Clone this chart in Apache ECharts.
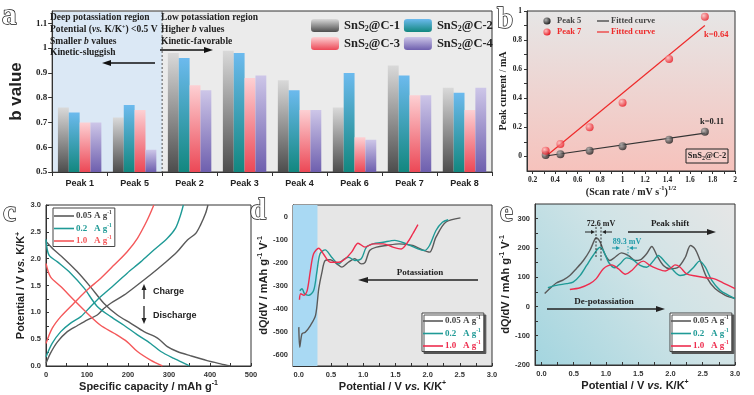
<!DOCTYPE html>
<html><head><meta charset="utf-8">
<script src="https://cdn.jsdelivr.net/npm/echarts@6/dist/echarts.min.js"></script>
<style>html,body{margin:0;padding:0;background:#fff}#c{width:754px;height:395px}</style>
</head><body><div id="c"></div><script>
// ---------- DATA ----------
// Panel a : b values
const peakCategories = ['Peak 1','Peak 5','Peak 2','Peak 3','Peak 4','Peak 6','Peak 7','Peak 8'];
const bC1 = [0.76,0.72,0.98,0.99,0.87,0.76,0.93,0.84];
const bC2 = [0.74,0.77,0.96,0.98,0.83,0.90,0.89,0.82];
const bC3 = [0.70,0.75,0.85,0.88,0.75,0.64,0.81,0.75];
const bC4 = [0.70,0.59,0.83,0.89,0.75,0.63,0.81,0.84];
const aYLabels = [0.5,0.6,0.7,0.8,0.9,1.0,1.1];
// Panel b : peak current vs sqrt scan rate
const scanRateSqrt = [0.316,0.447,0.707,1.0,1.414,1.732];
const peak5Current = [0.010,0.015,0.040,0.070,0.115,0.170];
const peak7Current = [0.040,0.085,0.200,0.370,0.670,0.960];
const fit5X = [0.316,1.732], fit5Y = [0.003,0.160];
const fit7X = [0.316,1.732], fit7Y = [0.000,0.900];
const bXLabels = [0.2,0.4,0.6,0.8,1.0,1.2,1.4,1.6,1.8,2.0];
const bXTicks = [0.2,0.3,0.4,0.5,0.6,0.7,0.8,0.9,1.0,1.1,1.2,1.3,1.4,1.5,1.6,1.7,1.8,1.9,2.0];
const bYLabels = [0,0.2,0.4,0.6,0.8,1.0];
const bYTicks = [0,0.1,0.2,0.3,0.4,0.5,0.6,0.7,0.8,0.9,1.0];
// Panel c : charge/discharge profiles [capacity, potential]
const c005Dis = [[0,2.32],[20,2.16],[44,2.0],[76,1.76],[109,1.47],[141,1.17],[174,0.95],[206,0.80],[239,0.64],[272,0.52],[296,0.36],[320,0.27],[353,0.19],[393,0.10],[426,0.04],[450,0.0]];
const c005Cha = [[0,0.05],[11,0.24],[28,0.45],[52,0.64],[76,0.75],[101,0.86],[125,0.95],[141,1.07],[158,1.17],[190,1.32],[223,1.51],[255,1.70],[288,1.91],[320,2.13],[345,2.35],[365,2.47],[377,2.63],[389,2.84],[395,3.0]];
const c02Dis = [[0,2.36],[7,2.07],[28,1.94],[60,1.73],[93,1.45],[125,1.11],[158,0.92],[190,0.76],[223,0.58],[255,0.42],[280,0.27],[312,0.14],[345,0.02],[350,0.0]];
const c02Cha = [[0,0.17],[15,0.42],[36,0.64],[60,0.80],[85,0.92],[109,1.11],[133,1.29],[166,1.51],[198,1.73],[231,1.94],[263,2.16],[296,2.38],[316,2.57],[328,2.81],[335,3.0]];
const c10Dis = [[0,1.91],[11,1.66],[36,1.48],[68,1.23],[101,0.98],[133,0.76],[166,0.61],[198,0.45],[223,0.27],[255,0.11],[284,0.0]];
const c10Cha = [[0,0.42],[15,0.70],[36,0.92],[68,1.17],[101,1.42],[133,1.63],[166,1.88],[198,2.13],[223,2.38],[247,2.72],[263,3.0]];
const cXLabels = [0,100,200,300,400,500];
const cXTicks = [0,50,100,150,200,250,300,350,400,450,500];
const cYLabels = [0,0.5,1.0,1.5,2.0,2.5,3.0];
const cYTicks = [0,0.25,0.5,0.75,1.0,1.25,1.5,1.75,2.0,2.25,2.5,2.75,3.0];
// Panel d : potassiation dQ/dV [potential, dQ/dV]
const d005 = [[2.51,-6],[2.28,-25],[2.13,-90],[2.03,-155],[1.92,-145],[1.77,-126],[1.56,-119],[1.36,-126],[1.21,-133],[1.10,-148],[1.03,-199],[0.97,-206],[0.87,-184],[0.77,-199],[0.67,-220],[0.59,-206],[0.49,-188],[0.41,-191],[0.36,-242],[0.31,-314],[0.26,-430],[0.18,-474],[0.10,-503],[0.05,-510],[0.015,-568],[0.0,-481]];
const d02 = [[2.32,-14],[2.23,-25],[2.13,-61],[2.03,-126],[1.95,-148],[1.85,-141],[1.67,-119],[1.49,-104],[1.31,-112],[1.15,-119],[1.05,-133],[0.97,-184],[0.87,-191],[0.77,-177],[0.69,-188],[0.62,-206],[0.51,-177],[0.41,-145],[0.33,-162],[0.28,-242],[0.23,-322],[0.15,-343],[0.09,-336],[0.05,-314],[0.015,-323]];
const d10 = [[1.85,-35],[1.77,-75],[1.69,-112],[1.59,-141],[1.46,-133],[1.31,-119],[1.15,-119],[1.03,-133],[0.92,-116],[0.82,-155],[0.72,-184],[0.62,-199],[0.49,-199],[0.38,-162],[0.31,-138],[0.23,-162],[0.18,-235],[0.13,-322],[0.08,-343],[0.03,-336],[0.01,-362]];
const dBand = [-0.09,0.29];
const dXLabels = [0,0.5,1.0,1.5,2.0,2.5,3.0];
const dXTicks = [0,0.25,0.5,0.75,1.0,1.25,1.5,1.75,2.0,2.25,2.5,2.75,3.0];
const dYLabels = [-600,-500,-400,-300,-200,-100,0];
const dYTicks = [-600,-550,-500,-450,-400,-350,-300,-250,-200,-150,-100,-50,0];
// Panel e : de-potassiation dQ/dV
const e005 = [[0.05,44],[0.13,61],[0.23,80],[0.34,91],[0.44,106],[0.54,129],[0.65,157],[0.75,191],[0.83,231],[0.85,234],[0.91,220],[0.98,180],[1.06,157],[1.14,168],[1.24,183],[1.35,174],[1.45,157],[1.53,159],[1.63,180],[1.71,205],[1.79,174],[1.89,140],[1.99,129],[2.12,134],[2.23,168],[2.31,208],[2.38,197],[2.46,157],[2.56,100],[2.69,61],[2.85,38],[3.0,27]];
const e02 = [[0.10,64],[0.23,72],[0.39,78],[0.49,83],[0.60,106],[0.70,140],[0.80,174],[0.91,202],[0.96,191],[1.04,151],[1.14,132],[1.22,146],[1.32,166],[1.42,159],[1.53,140],[1.63,134],[1.74,157],[1.81,174],[1.92,151],[2.02,129],[2.15,106],[2.25,111],[2.36,134],[2.45,155],[2.54,134],[2.64,89],[2.77,55],[2.90,38],[3.0,27]];
const e10 = [[0.44,58],[0.60,64],[0.75,78],[0.85,95],[0.96,129],[1.09,142],[1.19,129],[1.30,110],[1.40,123],[1.50,146],[1.58,155],[1.68,140],[1.79,129],[1.92,121],[2.02,134],[2.07,142],[2.15,134],[2.25,111],[2.41,103],[2.54,98],[2.67,95],[2.82,80],[3.0,61]];
const eYLabels = [-200,-100,0,100,200,300];
const eYTicks = [-200,-150,-100,-50,0,50,100,150,200,250,300];

// ---------- STYLE ----------
const SERIF = 'Liberation Serif', SANS = 'Liberation Sans';
const GREY = '#5a5a5a', TEAL = '#1f9a96', RED = '#ee2d4e', REDC = '#f4585a';
const LG = (c0,c1)=>new echarts.graphic.LinearGradient(0,0,0,1,[{offset:0,color:c0},{offset:1,color:c1}]);
const fmt = v => String(+(+v).toFixed(2));
const fmt1 = v => (+v).toFixed(1);
const supRich = {
  a:{fontFamily:SANS,fontWeight:'bold',fontSize:11,color:'#222'},
  i:{fontFamily:SANS,fontWeight:'bold',fontStyle:'italic',fontSize:11,color:'#222'},
  sup:{fontFamily:SANS,fontWeight:'bold',fontSize:7,color:'#222',padding:[0,0,7,0]}
};
function valAxis(grid, min, max, labels, ticks, f, extra){
  return Object.assign({
    gridIndex:grid, type:'value', min:min, max:max,
    axisLine:{show:true,onZero:false,lineStyle:{color:'#333',width:1}},
    axisTick:{show:true,customValues:ticks,length:3,inside:true,lineStyle:{color:'#333'}},
    axisLabel:{customValues:labels,formatter:f,fontFamily:SANS,fontWeight:'bold',fontSize:7.5,color:'#333',margin:5},
    splitLine:{show:false}
  }, extra||{});
}
const line = (name,data,color,x,y,extra)=>Object.assign({type:'line',name:name,data:data,xAxisIndex:x,yAxisIndex:y,symbol:'none',smooth:0.3,lineStyle:{color:color,width:1.4},itemStyle:{color:color},z:3},extra||{});
const pairs = (xs,ys)=>xs.map((x,i)=>[x,ys[i]]);

const chart = echarts.init(document.getElementById('c'));
const rateLegend = (left,top,withShadow,redColor)=>({
  data:[{name:'0.05',icon:'rect',itemStyle:{color:GREY},textStyle:{color:'#444'}},
        {name:'0.2',icon:'rect',itemStyle:{color:TEAL},textStyle:{color:TEAL}},
        {name:'1.0',icon:'rect',itemStyle:{color:redColor},textStyle:{color:redColor}}],
  left:left, top:top, orient:'vertical', itemGap:2, itemWidth:20, itemHeight:1.6,
  padding:[2,3,1,1], backgroundColor:'#fff', borderColor:'#444', borderWidth:1,
  shadowColor: withShadow?'#555':'rgba(0,0,0,0)', shadowOffsetX:2, shadowOffsetY:2, shadowBlur:0,
  formatter: n => n + (n==='0.05'?' ':'   ') + 'A g{sup|-1}',
  textStyle:{fontFamily:SERIF,fontWeight:'bold',fontSize:9,padding:[0,0,0,-3],
    rich:{sup:{fontFamily:SERIF,fontWeight:'bold',fontSize:5.5,padding:[0,0,6,0]}}}
});
const snsFmt = n => '{a|SnS}{s|2}{a|' + n.slice(4) + '}';
const snsLegend = (names, top)=>({
  data:names, left:306, top:top, itemWidth:28, itemHeight:13, itemGap:4, formatter:snsFmt,
  textStyle:{rich:{a:{fontFamily:SERIF,fontWeight:'bold',fontSize:12.5,color:'#222'},
                   s:{fontFamily:SERIF,fontWeight:'bold',fontSize:8,color:'#222',padding:[7,0,0,0]}}}
});

const option = {
  animation:false,
  grid:[
    {left:45,top:11,width:447,height:161,show:true,backgroundColor:'#ebebeb',borderColor:'#333',borderWidth:1},
    {left:527,top:11,width:208,height:160,show:true,backgroundColor:LG('#e6e6e6','#f6c2bc'),borderColor:'#333',borderWidth:1},
    {left:46,top:205,width:205,height:161,show:true,backgroundColor:'#fff',borderColor:'#333',borderWidth:1},
    {left:293,top:205,width:199,height:161,show:true,backgroundColor:'#e6e6e6',borderColor:'#333',borderWidth:1},
    {left:535,top:204,width:200,height:161,show:true,
      backgroundColor:new echarts.graphic.LinearGradient(0,1,1,0,[{offset:0,color:'#a3d5df'},{offset:0.55,color:'#cfe3e6'},{offset:1,color:'#e6e6e6'}]),
      borderColor:'#333',borderWidth:1}
  ],
  xAxis:[
    {gridIndex:0,type:'category',data:peakCategories,
      axisLine:{lineStyle:{color:'#333'}},axisTick:{show:true,length:4,lineStyle:{color:'#333'}},
      axisLabel:{fontFamily:SANS,fontWeight:'bold',fontSize:9,color:'#222',margin:7}},
    valAxis(1,0.15,2,bXLabels,bXTicks,fmt,{axisLabel:{customValues:bXLabels,formatter:fmt,fontFamily:SERIF,fontWeight:'bold',fontSize:7.5,color:'#222',margin:5},
      axisTick:{show:true,customValues:bXTicks,length:3,inside:false,lineStyle:{color:'#333'}},
      name:'{a|(Scan rate / mV s}{sup|-1}{a|)}{sup|1/2}',nameLocation:'middle',nameGap:14,
      nameTextStyle:{rich:{a:{fontFamily:SERIF,fontWeight:'bold',fontSize:10,color:'#222'},sup:{fontFamily:SERIF,fontWeight:'bold',fontSize:6.5,color:'#222',padding:[0,0,7,0]}}}}),
    valAxis(2,0,500,cXLabels,cXTicks,v=>String(v),{name:'{a|Specific capacity / mAh g}{sup|-1}',nameLocation:'middle',nameGap:13,nameTextStyle:{rich:supRich}}),
    valAxis(3,-0.09,3,dXLabels,dXTicks,fmt1,{name:'{a|Potential / V }{i|vs.}{a| K/K}{sup|+}',nameLocation:'middle',nameGap:13,nameTextStyle:{rich:supRich}}),
    valAxis(4,-0.1,3,dXLabels,dXTicks,fmt1,{name:'{a|Potential / V }{i|vs.}{a| K/K}{sup|+}',nameLocation:'middle',nameGap:13,nameTextStyle:{rich:supRich}})
  ],
  yAxis:[
    valAxis(0,0.5,1.15,aYLabels,aYLabels,fmt,{axisTick:{show:true,customValues:aYLabels,length:4,inside:false,lineStyle:{color:'#333'}},
      axisLabel:{customValues:aYLabels,formatter:fmt,fontFamily:SERIF,fontWeight:'bold',fontSize:9,color:'#222',margin:5},
      name:'b value',nameLocation:'middle',nameGap:20,nameTextStyle:{fontFamily:SANS,fontWeight:'bold',fontSize:17,color:'#222'}}),
    valAxis(1,-0.1,1,bYLabels,bYTicks,fmt,{axisLabel:{customValues:bYLabels,formatter:fmt,fontFamily:SERIF,fontWeight:'bold',fontSize:7.5,color:'#222',margin:5},
      axisTick:{show:true,customValues:bYTicks,length:3,inside:false,lineStyle:{color:'#333'}},
      name:'Peak current / mA',nameLocation:'middle',nameGap:15,nameTextStyle:{fontFamily:SERIF,fontWeight:'bold',fontSize:10,color:'#222'}}),
    valAxis(2,0,3,cYLabels,cYTicks,fmt1,{name:'{a|Potential / V }{i|vs.}{a| K/K}{sup|+}',nameLocation:'middle',nameGap:16,nameTextStyle:{rich:supRich}}),
    valAxis(3,-650,50,dYLabels,dYTicks,v=>String(v),{name:'{a|dQ/dV / mAh g}{sup|-1}{a| V}{sup|-1}',nameLocation:'middle',nameGap:21,nameTextStyle:{rich:supRich}}),
    valAxis(4,-200,350,eYLabels,eYTicks,v=>String(v),{name:'{a|dQ/dV / mAh g}{sup|-1}{a| V}{sup|-1}',nameLocation:'middle',nameGap:19,nameTextStyle:{rich:supRich}})
  ],
  legend:[
    snsLegend(['SnS2@C-1','SnS2@C-2'],14),
    snsLegend(['SnS2@C-3','SnS2@C-4'],32),
    rateLegend(53,208,false,REDC),
    rateLegend(422,313,true,RED),
    rateLegend(670,313,true,RED)
  ],
  series:[
    {type:'bar',name:'SnS2@C-1',data:bC1,xAxisIndex:0,yAxisIndex:0,barGap:'0%',barCategoryGap:'21%',itemStyle:{color:LG('#d9d9d9','#4d4d4d')}},
    {type:'bar',name:'SnS2@C-2',data:bC2,xAxisIndex:0,yAxisIndex:0,barGap:'0%',barCategoryGap:'21%',itemStyle:{color:LG('#6cbaee','#12877f')}},
    {type:'bar',name:'SnS2@C-3',data:bC3,xAxisIndex:0,yAxisIndex:0,barGap:'0%',barCategoryGap:'21%',itemStyle:{color:LG('#fdd0d3','#ec4856')}},
    {type:'bar',name:'SnS2@C-4',data:bC4,xAxisIndex:0,yAxisIndex:0,barGap:'0%',barCategoryGap:'21%',itemStyle:{color:LG('#cdc6e8','#6e5fae')}},
    {type:'line',name:'fit5',data:pairs(fit5X,fit5Y),xAxisIndex:1,yAxisIndex:1,symbol:'none',lineStyle:{color:'#333',width:1.2},z:2},
    {type:'line',name:'fit7',data:pairs(fit7X,fit7Y),xAxisIndex:1,yAxisIndex:1,symbol:'none',lineStyle:{color:'#ee2a2a',width:1.2},z:2},
    {type:'scatter',name:'Peak 5',data:pairs(scanRateSqrt,peak5Current),xAxisIndex:1,yAxisIndex:1,symbolSize:8,z:4,
      itemStyle:{color:new echarts.graphic.RadialGradient(0.35,0.35,0.7,[{offset:0,color:'#b0b0b0'},{offset:1,color:'#1a1a1a'}])}},
    {type:'scatter',name:'Peak 7',data:pairs(scanRateSqrt,peak7Current),xAxisIndex:1,yAxisIndex:1,symbolSize:8,z:4,
      itemStyle:{color:new echarts.graphic.RadialGradient(0.35,0.35,0.7,[{offset:0,color:'#ffc0c0'},{offset:1,color:'#e8141e'}])}},
    line('0.05',c005Dis,GREY,2,2), line('0.05',c005Cha,GREY,2,2),
    line('0.2',c02Dis,TEAL,2,2), line('0.2',c02Cha,TEAL,2,2),
    line('1.0',c10Dis,REDC,2,2), line('1.0',c10Cha,REDC,2,2),
    {type:'line',name:'band',data:[],xAxisIndex:3,yAxisIndex:3,z:1,
      markArea:{silent:true,itemStyle:{color:'#a9d9f3'},data:[[{xAxis:dBand[0]},{xAxis:dBand[1]}]]}},
    line('0.05',d005,GREY,3,3), line('0.2',d02,TEAL,3,3), line('1.0',d10,RED,3,3),
    line('0.05',e005,GREY,4,4), line('0.2',e02,TEAL,4,4), line('1.0',e10,RED,4,4)
  ]
};
chart.setOption(option);

// ---------- ANNOTATIONS ----------
function arrow(x1,y1,x2,y2,color,lw,hl,hw){
  const a=Math.atan2(y2-y1,x2-x1), c=Math.cos(a), s=Math.sin(a);
  const bx=x2-hl*c, by=y2-hl*s;
  return [
    {type:'line',shape:{x1:x1,y1:y1,x2:bx,y2:by},style:{stroke:color,lineWidth:lw},z:10},
    {type:'polygon',shape:{points:[[x2,y2],[bx-hw*s,by+hw*c],[bx+hw*s,by-hw*c]]},style:{fill:color},z:10}
  ];
}
function txt(x,y,text,opt){
  return Object.assign({type:'text',x:x,y:y,z:10,style:Object.assign({text:text,fill:'#222',font:'bold 9.5px '+SERIF,textAlign:'left',textVerticalAlign:'middle'},opt||{})});
}
function panelLabel(x,y,ch){
  return {type:'text',x:x,y:y,z:10,style:{text:ch,fill:'#fff',stroke:'#111',lineWidth:1.4,font:'bold 29px '+SERIF,textAlign:'left',textVerticalAlign:'top'}};
}
const serifRich = {
  n:{fontFamily:SERIF,fontWeight:'bold',fontSize:9.5,color:'#222'},
  i:{fontFamily:SERIF,fontWeight:'bold',fontStyle:'italic',fontSize:9.5,color:'#222'},
  sup:{fontFamily:SERIF,fontWeight:'bold',fontSize:6,color:'#222',padding:[0,0,6,0]},
  sub:{fontFamily:SERIF,fontWeight:'bold',fontSize:6,color:'#222',padding:[5,0,0,0]}
};
const xP5 = chart.convertToPixel({xAxisIndex:0},'Peak 5');
const xP2 = chart.convertToPixel({xAxisIndex:0},'Peak 2');
const xL = chart.convertToPixel({xAxisIndex:0},'Peak 1');
const xBound = (xP5+xP2)/2;
const xLeft = xL - (xP2-xP5)/2;
const yTop = chart.convertToPixel({yAxisIndex:0},1.15);
const yBot = chart.convertToPixel({yAxisIndex:0},0.5);

let els = [];
els.push({type:'rect',shape:{x:xLeft+1,y:yTop+1,width:xBound-xLeft-1,height:yBot-yTop-1.5},style:{fill:'#dbe8f5'},z:0,z2:0});
els.push({type:'line',shape:{x1:xBound,y1:yTop,x2:xBound,y2:yBot},style:{stroke:'#555',lineWidth:1,lineDash:[2,2]},z:1});
els.push(txt(50,18,'Deep potassiation region'));
els.push(txt(50,30,'{n|Potential (}{i|vs.}{n| K/K}{sup|+}{n|) <0.5 V}',{rich:serifRich}));
els.push(txt(50,42,'{n|Smaller }{i|b}{n| values}',{rich:serifRich}));
els.push(txt(50,53,'Kinetic-sluggish'));
els.push(txt(161,18,'Low potassiation region'));
els.push(txt(161,30,'{n|Higher }{i|b}{n| values}',{rich:serifRich}));
els.push(txt(161,42,'Kinetic-favorable'));
els = els.concat(arrow(155,63,102,63,'#111',1.5,9,3));
els = els.concat(arrow(160,50,213,50,'#111',1.5,9,3));
// panel b legend & notes
els.push({type:'circle',shape:{cx:547,cy:21,r:3.6},style:{fill:new echarts.graphic.RadialGradient(0.35,0.35,0.7,[{offset:0,color:'#b0b0b0'},{offset:1,color:'#1a1a1a'}])},z:10});
els.push(txt(557,21,'Peak 5',{font:'bold 8.5px '+SERIF,fill:'#444'}));
els.push({type:'line',shape:{x1:597,y1:21,x2:609,y2:21},style:{stroke:'#333',lineWidth:1.2},z:10});
els.push(txt(611,21,'Fitted curve',{font:'bold 8.5px '+SERIF,fill:'#444'}));
els.push({type:'circle',shape:{cx:547,cy:32,r:3.6},style:{fill:new echarts.graphic.RadialGradient(0.35,0.35,0.7,[{offset:0,color:'#ffc0c0'},{offset:1,color:'#e8141e'}])},z:10});
els.push(txt(557,32,'Peak 7',{font:'bold 8.5px '+SERIF,fill:'#ee2a2a'}));
els.push({type:'line',shape:{x1:597,y1:32,x2:609,y2:32},style:{stroke:'#ee2a2a',lineWidth:1.2},z:10});
els.push(txt(611,32,'Fitted curve',{font:'bold 8.5px '+SERIF,fill:'#ee2a2a'}));
els.push(txt(704,35,'k=0.64',{font:'bold 8.5px '+SERIF,fill:'#ee2a2a'}));
els.push(txt(700,122,'k=0.11',{font:'bold 8.5px '+SERIF,fill:'#222'}));
els.push({type:'rect',shape:{x:686,y:149,width:42,height:14},style:{fill:'rgba(255,255,255,0.15)',stroke:'#222',lineWidth:1},z:10});
els.push(txt(707,156,'{n|SnS}{sub|2}{n|@C-2}',{textAlign:'center',rich:{n:{fontFamily:SERIF,fontWeight:'bold',fontSize:8.5,color:'#222'},sub:{fontFamily:SERIF,fontWeight:'bold',fontSize:6,color:'#222',padding:[5,0,0,0]}}}));
// panel c arrows
els = els.concat(arrow(144,299,144,284,'#222',1.3,6,2.5));
els.push(txt(153,292,'Charge',{font:'bold 9px '+SANS}));
els = els.concat(arrow(144,306,144,324,'#222',1.3,6,2.5));
els.push(txt(153,316,'Discharge',{font:'bold 9px '+SANS}));
// panel d
els.push(txt(420,273,'Potassiation',{textAlign:'center',font:'bold 9px '+SERIF}));
els = els.concat(arrow(478,280,358,280,'#222',1.6,10,3));
// panel e
els.push(txt(601,224,'72.6 mV',{textAlign:'center',font:'bold 8px '+SERIF}));
els.push({type:'line',shape:{x1:596,y1:227,x2:596,y2:258},style:{stroke:'#222',lineWidth:0.9,lineDash:[2,1.5]},z:10});
els.push({type:'line',shape:{x1:601,y1:227,x2:601,y2:262},style:{stroke:'#222',lineWidth:0.9,lineDash:[2,1.5]},z:10});
els = els.concat(arrow(585,232,595,232,'#222',1,4,2));
els = els.concat(arrow(612,232,602,232,'#222',1,4,2));
els.push(txt(627,242,'89.3 mV',{textAlign:'center',font:'bold 8px '+SERIF,fill:'#1f9aa8'}));
els.push({type:'line',shape:{x1:628,y1:246,x2:628,y2:258},style:{stroke:'#1f9aa8',lineWidth:0.9,lineDash:[1.5,1.5]},z:10});
els = els.concat(arrow(612,248,620,248,'#1f9aa8',1,4,2));
els = els.concat(arrow(637,248,629,248,'#1f9aa8',1,4,2));
els.push(txt(670,224,'Peak shift',{textAlign:'center',font:'bold 9px '+SERIF}));
els = els.concat(arrow(628,232,716,232,'#222',1.5,9,3));
els.push(txt(604,302,'De-potassiation',{textAlign:'center',font:'bold 9px '+SERIF}));
els = els.concat(arrow(547,309,665,309,'#222',1.5,9,3));
// panel letters
els.push(panelLabel(2,2,'a'));
els.push(panelLabel(497,6,'b'));
els.push(panelLabel(3,199,'c'));
els.push(panelLabel(250,197,'d'));
els.push(panelLabel(500,199,'e'));
chart.setOption({graphic:{elements:els}});
</script></body></html>
